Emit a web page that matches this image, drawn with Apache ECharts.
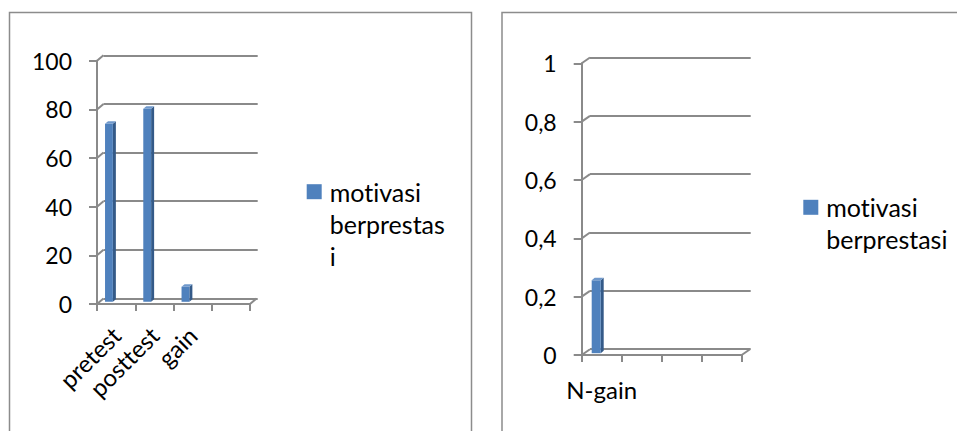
<!DOCTYPE html>
<html>
<head>
<meta charset="utf-8">
<script src="https://cdn.jsdelivr.net/npm/echarts@6/dist/echarts.min.js"></script>
<style>
  html, body { margin: 0; padding: 0; background: #fff; }
  #chart { width: 957px; height: 431px; }
  #chart text { font-variant-ligatures: none; font-feature-settings: "liga" 0, "clig" 0; }
</style>
</head>
<body>
<div id="chart"></div>
<script>
// Skor motivasi berprestasi: pretest, posttest dan gain
const categoriesLeft = ['pretest', 'posttest', 'gain', ''];
const valuesLeft = [73.2, 79.4, 6.2];
const yTicksLeft = [0, 20, 40, 60, 80, 100];
const yLabelsLeft = ['0', '20', '40', '60', '80', '100'];

// N-gain motivasi berprestasi
const categoriesRight = ['N-gain', '', '', ''];
const valuesRight = [0.25];
const yTicksRight = [0, 0.2, 0.4, 0.6, 0.8, 1];
const yLabelsRight = ['0', '0,2', '0,4', '0,6', '0,8', '1'];

const seriesName = 'motivasi berprestasi';
const legendLinesLeft = ['motivasi', 'berprestas', 'i'];
const legendLinesRight = ['motivasi', 'berprestasi'];

const FONT = 'Lato';
const GRID_COLOR = '#8a8a8a';
const BAR_FRONT = '#4f81bd';
const BAR_SIDE = '#345a88';
const BAR_TOP = '#6f98cb';
const LEGEND_LINE = 32;

// depth of the back wall and shape of the bars for each panel
const panelLeft = { dx: 6.5, dy: -5.5, offset: 0.21, width: 0.205, lift: 2.2, bdx: 3, bdy: -2.5 };
const panelRight = { dx: 8.3, dy: -5.8, offset: 0.25, width: 0.225, lift: 1.8, bdx: 3, bdy: -2.5 };

function tickLabel(ticks, labels) {
  return function (v) {
    let best = 0;
    for (let i = 1; i < ticks.length; i++) {
      if (Math.abs(ticks[i] - v) < Math.abs(ticks[best] - v)) best = i;
    }
    return labels[best];
  };
}

function bar3d(o) {
  return function (params, api) {
    const i = api.value(0), v = api.value(1);
    const band = api.size([1, 0])[0];
    const c = api.coord([i, v]);
    const c0 = api.coord([i, 0]);
    const x0 = c[0] - band / 2 + band * o.offset;
    const x1 = x0 + band * o.width;
    const top = c[1] - o.lift, bot = c0[1] - o.lift;
    return {
      type: 'group',
      children: [
        { type: 'polygon', shape: { points: [[x1, top], [x1 + o.bdx, top + o.bdy], [x1 + o.bdx, bot + o.bdy], [x1, bot]] }, style: { fill: BAR_SIDE } },
        { type: 'rect', shape: { x: x0, y: top, width: x1 - x0, height: bot - top }, style: { fill: BAR_FRONT } },
        { type: 'polygon', shape: { points: [[x0, top], [x0 + o.bdx, top + o.bdy], [x1 + o.bdx, top + o.bdy], [x1, top]] }, style: { fill: BAR_TOP } }
      ]
    };
  };
}

// short edges joining the front axis ticks to the back wall lines
function wallEdge(o, side) {
  return function (params, api) {
    const v = api.value(1);
    const band = api.size([1, 0])[0];
    const p = api.coord([api.value(0), v]);
    const x = p[0] + side * band / 2;
    return {
      type: 'line',
      shape: { x1: x, y1: p[1], x2: x + o.dx, y2: p[1] + o.dy },
      style: { stroke: GRID_COLOR, lineWidth: 2 }
    };
  };
}

function frontY(ticks, labels, min, max, interval, gi) {
  return {
    gridIndex: gi, type: 'value', min: min, max: max, interval: interval,
    axisLine: { show: true, lineStyle: { color: GRID_COLOR, width: 2 } },
    axisTick: { show: true, length: 8, lineStyle: { color: GRID_COLOR, width: 2 } },
    splitLine: { show: false },
    axisLabel: { margin: 25, color: '#000', fontFamily: FONT, fontSize: 23, formatter: tickLabel(ticks, labels) }
  };
}

function backY(min, max, interval, gi) {
  return {
    gridIndex: gi, type: 'value', min: min, max: max, interval: interval,
    axisLine: { show: false }, axisTick: { show: false }, axisLabel: { show: false },
    splitLine: { show: true, lineStyle: { color: GRID_COLOR, width: 2 } }
  };
}

function backX(gi) {
  return { gridIndex: gi, type: 'value', min: 0, max: 1, axisLine: { show: false }, axisTick: { show: false }, axisLabel: { show: false }, splitLine: { show: false } };
}

function frontX(cats, gi, labelOpts) {
  return {
    gridIndex: gi, type: 'category', data: cats, boundaryGap: true,
    axisLine: { show: true, lineStyle: { color: GRID_COLOR, width: 2 } },
    axisTick: { show: true, interval: 0, length: 7, lineStyle: { color: GRID_COLOR, width: 2 } },
    axisLabel: Object.assign({ interval: 0, color: '#000', fontFamily: FONT, fontSize: 24 }, labelOpts)
  };
}

// legend text: first line level with the swatch, the rest below it
function legendBlock(lines, left, swatchCenterY) {
  const pad = LEGEND_LINE * (lines.length - 1);
  const total = LEGEND_LINE * lines.length + pad;
  return {
    left: left, top: swatchCenterY - total / 2, padding: 0, itemWidth: 15, itemHeight: 15, itemGap: 0,
    icon: 'rect', data: [seriesName], selectedMode: false,
    formatter: function () { return lines.map(function (s) { return '{t|' + s + '}'; }).join('\n'); },
    textStyle: {
      color: '#000', fontFamily: FONT, fontSize: 25, lineHeight: LEGEND_LINE,
      padding: [pad, 0, 0, 3],
      rich: { t: { color: '#000', fontFamily: FONT, fontSize: 25, lineHeight: LEGEND_LINE } }
    }
  };
}

const chart = echarts.init(document.getElementById('chart'), null, { renderer: 'svg' });

chart.setOption({
  animation: false,
  backgroundColor: '#fff',
  graphic: [
    { type: 'rect', shape: { x: 9.5, y: 12.5, width: 462, height: 440 }, style: { fill: null, stroke: '#8c8c8c', lineWidth: 1.5 }, silent: true },
    { type: 'rect', shape: { x: 502, y: 12.5, width: 520, height: 440 }, style: { fill: null, stroke: '#8c8c8c', lineWidth: 1.5 }, silent: true }
  ],
  grid: [
    { left: 97, top: 60.8, width: 153, height: 243.2 },     // left, front plane
    { left: 103.5, top: 55.3, width: 154.2, height: 243.2 }, // left, back wall
    { left: 581.7, top: 63.3, width: 160, height: 291.7 },   // right, front plane
    { left: 590, top: 57.5, width: 160.7, height: 291.7 }    // right, back wall
  ],
  xAxis: [
    frontX(categoriesLeft, 0, { rotate: 45, margin: 27 }),
    backX(1),
    frontX(categoriesRight, 2, { rotate: 0, margin: 22 }),
    backX(3)
  ],
  yAxis: [
    frontY(yTicksLeft, yLabelsLeft, 0, 100, 20, 0),
    backY(0, 100, 20, 1),
    frontY(yTicksRight, yLabelsRight, 0, 1, 0.2, 2),
    backY(0, 1, 0.2, 3)
  ],
  legend: [
    legendBlock(legendLinesLeft, 306.7, 191.7),
    legendBlock(legendLinesRight, 803.3, 207.3)
  ],
  series: [
    {
      name: seriesName, type: 'custom', xAxisIndex: 0, yAxisIndex: 0,
      itemStyle: { color: BAR_FRONT },
      renderItem: bar3d(panelLeft),
      data: valuesLeft.map(function (v, i) { return [i, v]; })
    },
    {
      type: 'custom', xAxisIndex: 0, yAxisIndex: 0, silent: true,
      renderItem: wallEdge(panelLeft, -1),
      data: yTicksLeft.map(function (t) { return [0, t]; })
    },
    {
      type: 'custom', xAxisIndex: 0, yAxisIndex: 0, silent: true,
      renderItem: wallEdge(panelLeft, 1),
      data: [[categoriesLeft.length - 1, 0]]
    },
    {
      name: seriesName, type: 'custom', xAxisIndex: 2, yAxisIndex: 2,
      itemStyle: { color: BAR_FRONT },
      renderItem: bar3d(panelRight),
      data: valuesRight.map(function (v, i) { return [i, v]; })
    },
    {
      type: 'custom', xAxisIndex: 2, yAxisIndex: 2, silent: true,
      renderItem: wallEdge(panelRight, -1),
      data: yTicksRight.map(function (t) { return [0, t]; })
    },
    {
      type: 'custom', xAxisIndex: 2, yAxisIndex: 2, silent: true,
      renderItem: wallEdge(panelRight, 1),
      data: [[categoriesRight.length - 1, 0]]
    }
  ]
});
</script>
</body>
</html>
